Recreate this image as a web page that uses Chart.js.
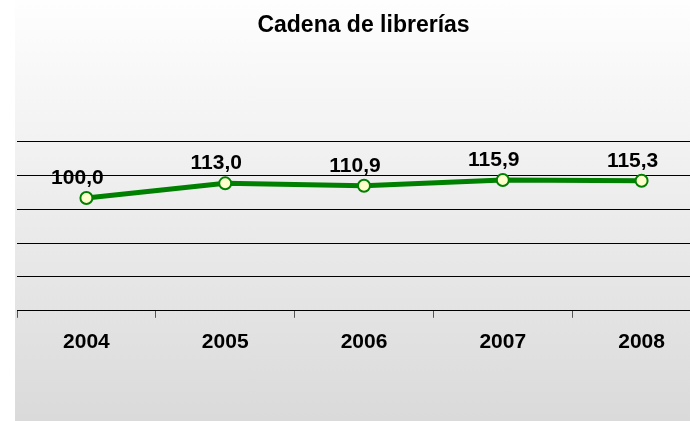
<!DOCTYPE html>
<html>
<head>
<meta charset="utf-8">
<script src="https://cdn.jsdelivr.net/npm/chart.js@4/dist/chart.umd.min.js"></script>
<style>
  body { margin: 0; background: #fff; overflow: hidden; width: 690px; height: 421px; }
  #wrap {
    position: absolute; left: 15px; top: 0;
    width: 700px; height: 421px; overflow: hidden;
    background: linear-gradient(to bottom, #fefefe, #dadada);
  }
  #chart { position: absolute; left: -6px; top: 0; }
</style>
</head>
<body>
<div id="wrap"><canvas id="chart" width="710" height="421"></canvas></div>
<script>
const years = ['2004', '2005', '2006', '2007', '2008'];
const indexValues = [100.0, 113.0, 110.9, 115.9, 115.3];
const chartTitle = 'Cadena de librerías';
const yMin = 0, yMax = 150, yStep = 30;

const FONT = '"Liberation Sans", Arial, sans-serif';

// draws the value above each point, spanish decimal comma
const valueLabels = {
  id: 'valueLabels',
  afterDatasetsDraw(chart) {
    const ctx = chart.ctx;
    const meta = chart.getDatasetMeta(0);
    ctx.save();
    ctx.font = 'bold 21px ' + FONT;
    ctx.fillStyle = '#000';
    ctx.textAlign = 'center';
    ctx.textBaseline = 'alphabetic';
    meta.data.forEach((pt, i) => {
      const txt = indexValues[i].toFixed(1).replace('.', ',');
      ctx.fillText(txt, pt.x - 9, pt.y - 14);
    });
    ctx.restore();
  }
};

new Chart(document.getElementById('chart'), {
  type: 'line',
  data: {
    labels: years,
    datasets: [{
      data: indexValues,
      borderColor: '#008000',
      borderWidth: 5,
      tension: 0,
      pointRadius: 6,
      pointBorderWidth: 2,
      pointBorderColor: '#008000',
      pointBackgroundColor: '#ffffcc'
    }]
  },
  options: {
    responsive: false,
    animation: false,
    layout: { padding: { left: 2, right: 3, top: 0, bottom: 54 } },
    plugins: {
      legend: { display: false },
      tooltip: { enabled: false },
      title: {
        display: true,
        text: chartTitle,
        color: '#000',
        font: { family: FONT, size: 23, weight: 'bold' },
        padding: { top: 12, bottom: 102 }
      }
    },
    scales: {
      x: {
        offset: true,
        grid: { drawOnChartArea: false, drawTicks: true, tickLength: 7, color: '#555', offset: true },
        border: { display: true, color: '#000', width: 1 },
        ticks: { color: '#000', padding: 12, font: { family: FONT, size: 21, weight: 'bold' } }
      },
      y: {
        min: yMin,
        max: yMax,
        ticks: { display: false, stepSize: yStep },
        grid: { color: '#000', lineWidth: 1, drawTicks: false },
        border: { display: false },
        afterFit(scale) { scale.width = 0; }
      }
    }
  },
  plugins: [valueLabels]
});
</script>
</body>
</html>
